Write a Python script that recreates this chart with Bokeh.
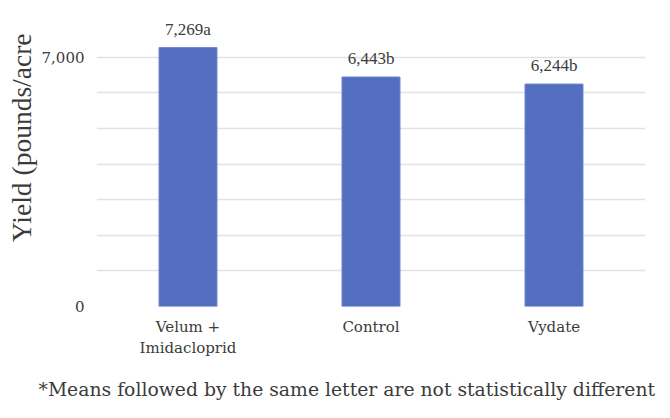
from bokeh.embed import file_html
from bokeh.resources import INLINE
from bokeh.models import FixedTicker, ColumnDataSource, Title, LabelSet, CustomJSTickFormatter
from bokeh.plotting import figure

treatments = ["Velum +\nImidacloprid", "Control", "Vydate"]
yields = [7269, 6443, 6244]
letters = ["a", "b", "b"]
y_ticks = [0, 7000]
grid_ticks = [0, 1000, 2000, 3000, 4000, 5000, 6000, 7000, 8000]

FONT = "'DejaVu Serif'"
LABEL_FONT = "'Liberation Serif'"
TEXT = "#3b3b3b"

src = ColumnDataSource(data=dict(
    x=treatments,
    top=yields,
    lbl=["{:,}{}".format(v, l) for v, l in zip(yields, letters)],
))

p = figure(x_range=treatments, y_range=(0, 8000), width=660, height=416,
           output_backend="svg", toolbar_location=None,
           min_border_left=96, min_border_right=15,
           min_border_top=21, min_border_bottom=110)

p.vbar(x="x", top="top", width=0.317, source=src,
       fill_color="#536dbf", line_color="#7189d3", line_width=1)

labels = LabelSet(x="x", y="top", text="lbl", source=src,
                  text_align="center", text_baseline="bottom", y_offset=9,
                  text_font=FONT, text_font_size="17px", text_color=TEXT)
p.add_layout(labels)

p.outline_line_color = None
p.xgrid.grid_line_color = None
p.ygrid.ticker = FixedTicker(ticks=grid_ticks)
p.ygrid.grid_line_color = "#e2e2e2"
p.ygrid.grid_line_width = 1.5

p.yaxis.ticker = FixedTicker(ticks=y_ticks)
p.yaxis.formatter = CustomJSTickFormatter(code="return tick.toLocaleString('en-US');")
p.yaxis.axis_line_color = None
p.yaxis.major_tick_line_color = None
p.yaxis.minor_tick_line_color = None
p.yaxis.major_label_standoff = 6
p.yaxis.major_label_text_font = FONT
p.yaxis.major_label_text_font_size = "15px"
p.yaxis.major_label_text_color = TEXT

p.xaxis.axis_line_color = None
p.xaxis.major_tick_line_color = None
p.xaxis.minor_tick_line_color = None
p.xaxis.major_label_standoff = 5
p.xaxis.major_label_text_font = FONT
p.xaxis.major_label_text_font_size = "15px"
p.xaxis.major_label_text_color = TEXT

# y title hangs from near the top, like the original
ytitle = Title(text="Yield (pounds/acre", align="right", offset=12, standoff=4,
               text_font=LABEL_FONT, text_font_size="27.5px",
               text_font_style="normal", text_color=TEXT)
p.add_layout(ytitle, "left")

note = Title(text="*Means followed by the same letter are not statistically different",
             align="left", offset=-58, standoff=33,
             text_font=FONT, text_font_size="18.8px",
             text_font_style="normal", text_color=TEXT)
p.add_layout(note, "below")

open("out.html", "w").write(file_html(p, INLINE))
